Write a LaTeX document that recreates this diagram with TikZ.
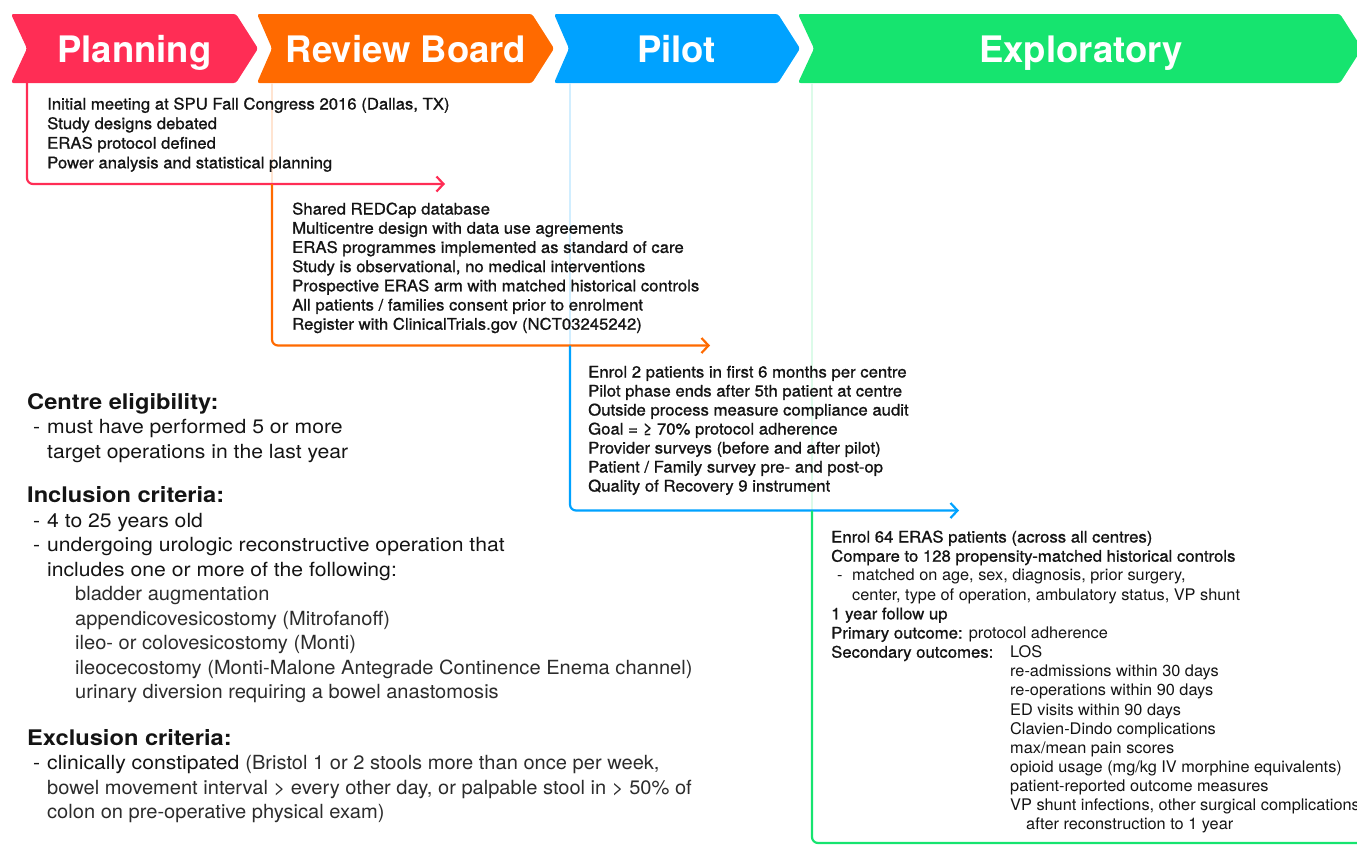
\documentclass[tikz,border=0pt]{standalone}
\usepackage{fontspec}
\setmainfont{TeX Gyre Heros}
\newfontfamily\medf[FakeBold=1,FakeStretch=1.045]{TeX Gyre Heros}
\newfontfamily\regf[FakeStretch=1.02]{TeX Gyre Heros}
\newfontfamily\lregf[FakeStretch=1.085]{TeX Gyre Heros}
\newfontfamily\hdf[FakeStretch=1.1]{TeX Gyre Heros}
\newfontfamily\condf[FakeStretch=1.03]{TeX Gyre Heros}
\usetikzlibrary{arrows.meta}
\definecolor{cRed}{HTML}{FF2D55}
\definecolor{cOra}{HTML}{FF6A00}
\definecolor{cBlu}{HTML}{00A2FF}
\definecolor{cGrn}{HTML}{16E46F}
\definecolor{ink}{HTML}{141414}
\definecolor{inkl}{HTML}{2C2C2C}
\tikzset{
  chev/.style={rounded corners=2.5pt},
  htext/.style={text=white, font=\bfseries\fontsize{36.5}{40}\selectfont, anchor=base, inner sep=0pt},
  phase/.style={line width=2.2pt, rounded corners=6pt},
  arr/.style={-{Straight Barb[length=7pt,width=15pt]}},
  faint/.style={line width=2pt},
  topblock/.style={anchor=base west, inner sep=0pt, align=left, text=ink, font=\medf\fontsize{16}{19.2}\selectfont},
  leftblock/.style={anchor=base west, inner sep=0pt, align=left, text=ink, font=\lregf\fontsize{19.5}{24.4}\selectfont},
}
\newcommand{\dsh}{\makebox[14pt][l]{-}}
\newcommand{\hd}[1]{{\hdf\bfseries\fontsize{21.5}{24.4}\selectfont #1}}
\newcommand{\cd}[1]{{\condf\color{inkl}#1}}
\begin{document}
\begin{tikzpicture}[x=1pt,y=-1pt]
\useasboundingbox (0,0) rectangle (1357,846);
% chevrons
\fill[cRed,chev] (11,14) -- (236,14) -- (258,48.5) -- (236,83) -- (11,83) -- (27,48.5) -- cycle;
\fill[cOra,chev] (257,14) -- (532,14) -- (554,48.5) -- (532,83) -- (257,83) -- (272,48.5) -- cycle;
\fill[cBlu,chev] (554,14) -- (778,14) -- (800,48.5) -- (778,83) -- (554,83) -- (569,48.5) -- cycle;
\fill[cGrn,chev] (798,14) -- (1340,14) -- (1362,48.5) -- (1340,83) -- (798,83) -- (814,48.5) -- cycle;
\node[htext] (hPlan) at (134.5,62) {Planning};
\node[htext] (hRev) at (406,62) {Review Board};
\node[htext] (hPil) at (676.5,62) {Pilot};
\node[htext] (hExp) at (1081,62) {Exploratory};
% coordinates
\coordinate (r0) at (27,83); \coordinate (r1) at (27,184); \coordinate (r2) at (445,184);
\coordinate (o0) at (272,83); \coordinate (o1) at (272,184); \coordinate (o2) at (272,345.5); \coordinate (o3) at (710,345.5);
\coordinate (b0) at (570,83); \coordinate (b1) at (570,345.5); \coordinate (b2) at (570,510.5); \coordinate (b3) at (959,510.5);
\coordinate (g0) at (812,83); \coordinate (g1) at (812,510.5); \coordinate (g2) at (812,843); \coordinate (g3) at (1380,843);
% faint lines
\draw[faint,cOra!18] (o0) -- (o1);
\draw[faint,cBlu!18] (b0) -- (b1);
\draw[faint,cGrn!15] (g0) -- (g1);
% phase lines
\draw[phase,arr,cRed] (r0) -- (r1) -- (r2);
\draw[phase,arr,cOra] (o1) -- (o2) -- (o3);
\draw[phase,arr,cBlu] (b1) -- (b2) -- (b3);
\draw[phase,cGrn] (g1) -- (g2) -- (g3);
% top blocks (base anchor = baseline of last line)
\node[topblock,font=\medf\fontsize{16}{19.6}\selectfont] (tPlan) at (47,168.3) {Initial meeting at SPU Fall Congress 2016 (Dallas, TX)\\Study designs debated\\ERAS protocol defined\\Power analysis and statistical planning};
\node[topblock] (tRev) at (292,329.7) {Shared REDCap database\\Multicentre design with data use agreements\\ERAS programmes implemented as standard of care\\Study is observational, no medical interventions\\Prospective ERAS arm with matched historical controls\\All patients / families consent prior to enrolment\\Register with ClinicalTrials.gov (NCT03245242)};
\node[topblock,font=\medf\fontsize{16}{19.0}\selectfont] (tPil) at (588,491.5) {Enrol 2 patients in first 6 months per centre\\Pilot phase ends after 5th patient at centre\\Outside process measure compliance audit\\Goal = ≥ 70\% protocol adherence\\Provider surveys (before and after pilot)\\Patient / Family survey pre- and post-op\\Quality of Recovery 9 instrument};
\node[topblock] (tExpA) at (831,657.7) {Enrol 64 ERAS patients (across all centres)\\Compare to 128 propensity-matched historical controls\\{\regf\hspace{6pt}\makebox[15pt][l]{-}matched on age, sex, diagnosis, prior surgery,}\\{\regf\hspace{21pt}center, type of operation, ambulatory status, VP shunt}\\1 year follow up\\Primary outcome: {\regf protocol adherence}\\Secondary outcomes:};
\node[topblock,font=\regf\fontsize{16}{19.13}\selectfont] (tExpB) at (1010,829.8) {LOS\\re-admissions within 30 days\\re-operations within 90 days\\ED visits within 90 days\\Clavien-Dindo complications\\max/mean pain scores\\opioid usage (mg/kg IV morphine equivalents)\\patient-reported outcome measures\\VP shunt infections, other surgical complications\\\hspace{16pt}after reconstruction to 1 year};
% left blocks
\node[leftblock] (lElig) at (27,458.3) {\hd{Centre eligibility:}\\\hspace{6pt}\dsh must have performed 5 or more\\\hspace{20pt}target operations in the last year};
\node[leftblock,font=\lregf\fontsize{19.5}{24.55}\selectfont] (lIncl) at (27,698.9) {\hd{Inclusion criteria:}\\\hspace{6pt}\dsh 4 to 25 years old\\\hspace{6pt}\dsh undergoing urologic reconstructive operation that\\\hspace{20pt}includes one or more of the following:\\\hspace{48pt}\cd{bladder augmentation}\\\hspace{48pt}\cd{appendicovesicostomy (Mitrofanoff)}\\\hspace{48pt}\cd{ileo- or colovesicostomy (Monti)}\\\hspace{48pt}\cd{ileocecostomy (Monti-Malone Antegrade Continence Enema channel)}\\\hspace{48pt}\cd{urinary diversion requiring a bowel anastomosis}};
\node[leftblock] (lExcl) at (27,818.7) {\hd{Exclusion criteria:}\\\hspace{6pt}\dsh clinically constipated \cd{(Bristol 1 or 2 stools more than once per week,}\\\hspace{20pt}\cd{bowel movement interval > every other day, or palpable stool in > 50\% of}\\\hspace{20pt}\cd{colon on pre-operative physical exam)}};
\end{tikzpicture}
\end{document}
